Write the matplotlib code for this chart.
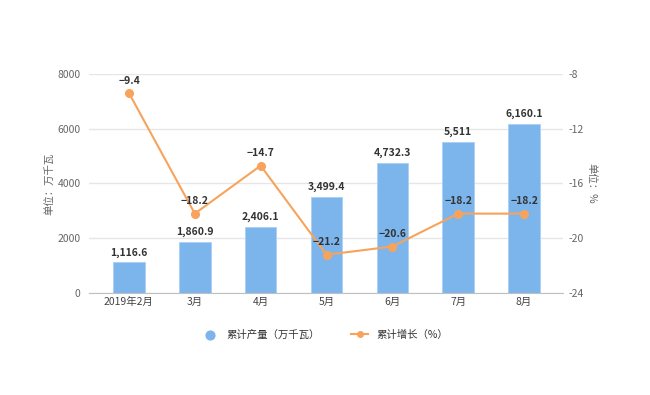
import matplotlib.pyplot as plt
import numpy as np

plt.rcParams['font.family'] = ['Noto Sans CJK SC', 'DejaVu Sans']

# 数据
months = ["2019年2月", "3月", "4月", "5月", "6月", "7月", "8月"]
output = [1116.6, 1860.9, 2406.1, 3499.4, 4732.3, 5511, 6160.1]
output_labels = ["1,116.6", "1,860.9", "2,406.1", "3,499.4", "4,732.3", "5,511", "6,160.1"]
growth = [-9.4, -18.2, -14.7, -21.2, -20.6, -18.2, -18.2]

bar_color = "#7cb5ec"
line_color = "#f7a35c"

fig = plt.figure(figsize=(6.5, 3.95), dpi=100)
ax = fig.add_axes([0.137, 0.258, 0.729, 0.555])
ax2 = ax.twinx()

x = np.arange(len(months))
ax.bar(x, output, width=0.48, color=bar_color, edgecolor="#a9d0f5", linewidth=0.6,
       zorder=2)
for xi, v, lab in zip(x, output, output_labels):
    ax.text(xi, v + 180, lab, ha="center", va="bottom", fontsize=7.5,
            fontweight="bold", color="#333333", zorder=5)

ax.set_ylim(0, 8000)
ax.set_yticks([0, 2000, 4000, 6000, 8000])
ax.set_xlim(-0.606, 6.59)
ax.set_xticks(x)
ax.set_xticklabels(months)
ax.grid(axis="y", color="#e6e6e6", linewidth=1, zorder=0)
ax.set_axisbelow(True)
for s in ["top", "right", "left"]:
    ax.spines[s].set_visible(False)
ax.spines["bottom"].set_color("#c0c0c0")
ax.tick_params(axis="y", length=0, labelsize=7.5, labelcolor="#666666", pad=6)
ax.tick_params(axis="x", length=0, labelsize=7.5, labelcolor="#444444", pad=3)
ax.set_ylabel("单位：万千瓦", fontsize=7.5, color="#666666", labelpad=2)

# 增长率折线
ax2.plot(x, growth, color=line_color, linewidth=1.5, marker="o", markersize=5.5,
         zorder=4)
for xi, g in zip(x, growth):
    ax2.text(xi, g + 0.55, f"{g:g}".replace("-", "−"), ha="center", va="bottom",
             fontsize=7.5, fontweight="bold", color="#333333", zorder=6)
ax2.set_ylim(-24, -8)
ax2.set_yticks([-24, -20, -16, -12, -8])
ax2.set_yticklabels(["-24", "-20", "-16", "-12", "-8"])
for s in ["top", "right", "left", "bottom"]:
    ax2.spines[s].set_visible(False)
ax2.tick_params(axis="y", length=0, labelsize=7.5, labelcolor="#666666", pad=4)
ax2.set_ylabel("单位：%", fontsize=7.5, color="#666666", rotation=-90, labelpad=9)

# 图例
h1 = ax.scatter([], [], s=40, color=bar_color, label="累计产量（万千瓦）")
h2, = ax.plot([], [], color=line_color, marker="o", markersize=4, linewidth=1.5,
              label="累计增长（%）")
fig.legend(handles=[h1, h2], loc="center", bbox_to_anchor=(0.5, 0.152), ncol=2,
           frameon=False, fontsize=7.5, handlelength=1.6, columnspacing=3,
           labelcolor="#333333")

fig.savefig("out.png", dpi=100)
